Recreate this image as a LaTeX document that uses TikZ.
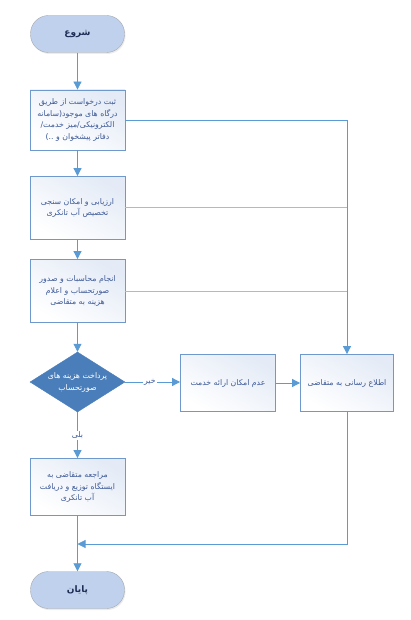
\documentclass[tikz,border=0pt]{standalone}
\usepackage{fontspec}
\newfontfamily\arabicfont[Script=Arabic]{DejaVu Sans}
\TeXXeTstate=1
\usetikzlibrary{shapes.geometric,arrows.meta,shadows}
\definecolor{termfill}{HTML}{BFD1EC}
\definecolor{termline}{HTML}{A5A9B0}
\definecolor{termtext}{HTML}{1F2D56}
\definecolor{boxline}{HTML}{6F98CC}
\definecolor{boxfill}{HTML}{E4EBF6}
\definecolor{boxtext}{HTML}{3E5A98}
\definecolor{decfill}{HTML}{4A7EBB}
\definecolor{flowline}{HTML}{5B9BD5}
\definecolor{sideline}{HTML}{A7BBD2}
\newcommand{\rl}[1]{\beginR #1\endR}
\tikzset{
    x=1pt,y=-1pt,
    terminal/.style={draw=termline, fill=termfill, rounded corners=18pt, minimum width=94pt, minimum height=37pt,
        font=\arabicfont\bfseries\fontsize{9}{11}\selectfont, text=termtext,
        drop shadow={shadow xshift=1pt, shadow yshift=-1.5pt, fill=black!15}},
    procbox/.style={draw=boxline, line width=0.8pt, left color=boxfill, right color=white, shading angle=-30,
        minimum width=95pt, minimum height=60pt, align=center, inner sep=2pt,
        font=\arabicfont\fontsize{7.8}{11.5}\selectfont, text=boxtext},
    decision/.style={diamond, draw=decfill, fill=decfill, minimum width=95pt, minimum height=60pt, inner sep=0pt},
    decisiontext/.style={align=center, font=\arabicfont\fontsize{7.8}{12}\selectfont, text=white},
    flow/.style={draw=flowline, line width=0.8pt, -{Triangle[width=8pt,length=8pt]}},
    side/.style={draw=sideline, line width=1pt},
    answer/.style={fill=white, inner sep=1pt, font=\arabicfont\fontsize{7.8}{9}\selectfont, text=boxtext}
}
\begin{document}
\begin{tikzpicture}
    \useasboundingbox (0,0) rectangle (411,620);
    % terminals
    \node[terminal] (start) at (77.5,34) {\rl{شروع}};
    \node[terminal] (stop) at (77.5,590) {\rl{پایان}};
    % process steps
    \node[procbox] (request) at (77.5,120) {\rl{ثبت درخواست از طریق}\\\rl{درگاه های موجود(سامانه}\\\rl{الکترونیکی/میز خدمت/}\\\rl{دفاتر پیشخوان و ..)}};
    \node[procbox, minimum height=63pt] (assess) at (77.5,208) {\rl{ارزیابی و امکان سنجی}\\\rl{تخصیص آب تانکری}};
    \node[procbox, minimum height=63pt] (invoice) at (77.5,291) {\rl{انجام محاسبات و صدور}\\\rl{صورتحساب  و اعلام}\\\rl{هزینه به متقاضی}};
    \node[decision] (paid) at (77.5,382) {};
    \node[decisiontext] (paidtext) at (paid) {\beginR پرداخت هزینه های\endR\\\beginR صورتحساب\endR};
    \node[procbox, minimum height=57pt] (noservice) at (228,383) {\rl{عدم امکان ارائه خدمت}};
    \node[procbox, minimum width=93pt, minimum height=57pt] (inform) at (347,383) {\rl{اطلاع رسانی به متقاضی}};
    \node[procbox, minimum height=57pt] (visit) at (77.5,487) {\rl{مراجعه متقاضی به}\\\rl{ایستگاه توزیع و دریافت}\\\rl{آب تانکری}};
    \coordinate (merge) at (77.5,544);
    % main flow
    \draw[flow] (start) -- (request);
    \draw[flow] (request) -- (assess);
    \draw[flow] (assess) -- (invoice);
    \draw[flow] (invoice) -- (paid);
    \draw[flow] (paid) -- (visit) node[answer, pos=0.5] {\rl{بلی}};
    \draw[flow] (paid.east) -- (paid.east -| noservice.west) node[answer, pos=0.45] {\rl{خیر}};
    \draw[flow] (noservice) -- (inform);
    \draw[draw=flowline, line width=0.8pt] (visit) -- (merge);
    \draw[flow] (merge) -- (stop);
    % side branches to the notice box
    \draw[side] (assess.east) -- (assess.east -| inform.north);
    \draw[side] (invoice.east) -- (invoice.east -| inform.north);
    \draw[flow] (request.east) -| (inform.north);
    \draw[flow] (inform.south) |- (merge);
\end{tikzpicture}
\end{document}
